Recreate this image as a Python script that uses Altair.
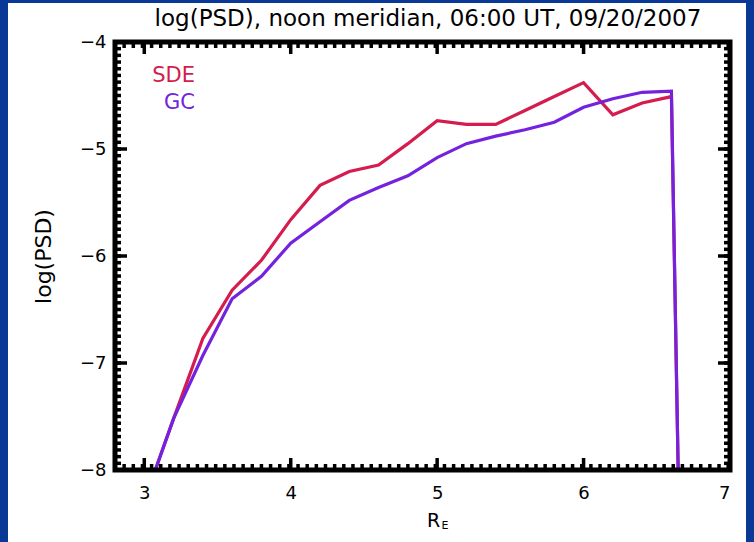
import altair as alt
import pandas as pd
import numpy as np

# ---- data ----
r_e = [3.0, 3.2, 3.4, 3.6, 3.8, 4.0, 4.2, 4.4, 4.6, 4.8, 5.0, 5.2, 5.4, 5.6, 5.8, 6.0, 6.2, 6.4, 6.6, 6.65]
sde = [-8.29, -7.52, -6.77, -6.32, -6.04, -5.66, -5.34, -5.21, -5.15, -4.95, -4.735, -4.77, -4.77,
       -4.64, -4.51, -4.38, -4.68, -4.57, -4.51, -8.3]
gc = [-8.29, -7.52, -6.93, -6.40, -6.19, -5.88, -5.68, -5.48, -5.36, -5.25, -5.08, -4.95, -4.88,
      -4.82, -4.75, -4.61, -4.53, -4.47, -4.46, -8.3]

x_major = [3, 4, 5, 6, 7]
y_major = [-8, -7, -6, -5, -4]
x_minor = list(np.round(np.arange(2.8, 7.0001, 1 / 16), 4))
y_minor = list(np.round(np.arange(-8.0, -3.9999, 1 / 16), 4))

series_names = ["SDE", "GC"]
series_colors = ["#d41c4e", "#7422de"]
title_text = ["log(PSD), noon meridian, 06:00 UT, 09/20/2007"]

W, H = 615, 428
FONT = "DejaVu Sans"

df_sde = pd.DataFrame({"x": r_e, "y": sde})
df_gc = pd.DataFrame({"x": r_e, "y": gc})
xs = alt.Scale(domain=[2.8, 7.0], nice=False, zero=False)
ys = alt.Scale(domain=[-8.0, -4.0], nice=False, zero=False)

one = pd.DataFrame({"a": [0]})

# white panel on blue page
panel = alt.Chart(one).mark_rect(color="white", clip=False).encode(
    x=alt.value(-107), x2=alt.value(631), y=alt.value(-39), y2=alt.value(510)
)

base_x = alt.X("x:Q", scale=xs,
               axis=alt.Axis(values=x_major, format="d", title="R", ticks=False, tickSize=0,
                             domain=False, grid=False, labelFontSize=18, labelFont=FONT,
                             labelColor="black", labelPadding=14, titleFont=FONT,
                             titleFontSize=19, titleFontWeight="normal", titleColor="black",
                             titleX=318, titleY=50, titleBaseline="middle", titleAlign="center",
                             zindex=2))
base_y = alt.Y("y:Q", scale=ys,
               axis=alt.Axis(values=y_major, format="d", title="log(PSD)", ticks=False,
                             tickSize=0, domain=False, grid=False, labelFontSize=18,
                             labelFont=FONT, labelColor="black", labelPadding=9,
                             titleFont=FONT, titleFontSize=22, titleFontWeight="normal",
                             titleColor="black", titleX=-72, titleY=214, titleAngle=270,
                             titleBaseline="middle", titleAlign="center", zindex=2))

line_sde = alt.Chart(df_sde).mark_line(color=series_colors[0], strokeWidth=3.2, clip=True).encode(
    x=base_x, y=base_y)
line_gc = alt.Chart(df_gc).mark_line(color=series_colors[1], strokeWidth=3.2, clip=True).encode(
    x="x:Q", y="y:Q")

dxmin = pd.DataFrame({"v": x_minor})
dymin = pd.DataFrame({"v": y_minor})
dxmaj = pd.DataFrame({"v": x_major})
dymaj = pd.DataFrame({"v": y_major})

def xticks(d, length, sw):
    b = alt.Chart(d).mark_rule(color="black", strokeWidth=sw, clip=True).encode(
        x=alt.X("v:Q", scale=xs), y=alt.value(H), y2=alt.value(H - length))
    t = alt.Chart(d).mark_rule(color="black", strokeWidth=sw, clip=True).encode(
        x=alt.X("v:Q", scale=xs), y=alt.value(0), y2=alt.value(length))
    return b + t

def yticks(d, length, sw):
    l = alt.Chart(d).mark_rule(color="black", strokeWidth=sw, clip=True).encode(
        y=alt.Y("v:Q", scale=ys), x=alt.value(0), x2=alt.value(length))
    r = alt.Chart(d).mark_rule(color="black", strokeWidth=sw, clip=True).encode(
        y=alt.Y("v:Q", scale=ys), x=alt.value(W), x2=alt.value(W - length))
    return l + r

frame = alt.Chart(one).mark_rect(fill=None, fillOpacity=0, stroke="black", strokeWidth=5,
                                 clip=False).encode(
    x=alt.value(0), x2=alt.value(W), y=alt.value(0), y2=alt.value(H))

leg = pd.DataFrame({"name": series_names, "color": series_colors, "row": [0, 1]})
leg_sde = alt.Chart(leg[leg.row == 0]).mark_text(align="right", baseline="middle", fontSize=21,
                                                 font=FONT, color=series_colors[0]).encode(
    text="name:N", x=alt.value(80), y=alt.value(34))
leg_gc = alt.Chart(leg[leg.row == 1]).mark_text(align="right", baseline="middle", fontSize=21,
                                                font=FONT, color=series_colors[1]).encode(
    text="name:N", x=alt.value(80), y=alt.value(61))

sub = alt.Chart(pd.DataFrame({"t": ["E"]})).mark_text(align="center", baseline="middle",
                                                       fontSize=11, font=FONT, color="black",
                                                       clip=False).encode(
    text="t:N", x=alt.value(330), y=alt.value(484))

title = alt.Chart(pd.DataFrame({"t": title_text})).mark_text(
    align="center", baseline="middle", fontSize=23, font=FONT, color="black", clip=False
).encode(text="t:N", x=alt.value(313), y=alt.value(-23))

chart = alt.layer(
    panel, line_sde, line_gc,
    xticks(dxmin, 6, 3.5), xticks(dxmaj, 12, 3.5),
    yticks(dymin, 6, 3.5), yticks(dymaj, 12, 3.5),
    frame, leg_sde, leg_gc, sub, title
).properties(
    width=W, height=H,
    autosize=alt.AutoSizeParams(type="none"),
    padding={"left": 115, "top": 42, "right": 24, "bottom": 72},
    background="#0a3896",
).configure_view(stroke=None, fill="white")

chart.save("out.html", embed_options={"renderer": "svg", "actions": False})
